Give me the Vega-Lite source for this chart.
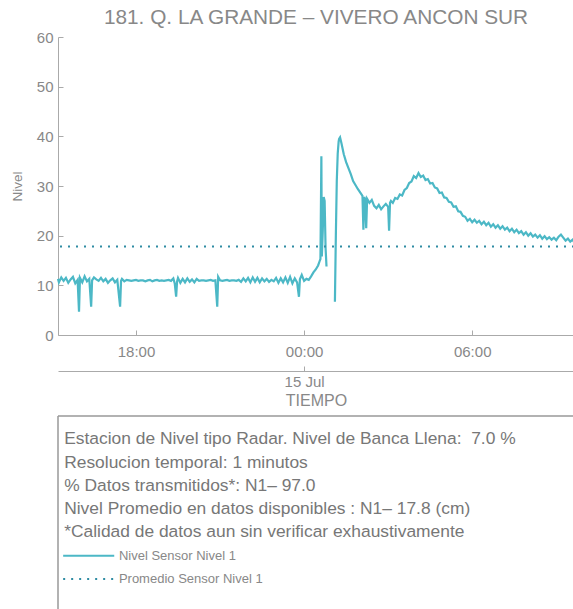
{
  "$schema": "https://vega.github.io/schema/vega-lite/v6.json",
  "padding": {"left": 10, "top": 7, "right": 0, "bottom": 0},
  "spacing": 7,
  "datasets": {
    "nivel": [
      {"t":"2023-07-14T15:13","v":11.3},{"t":"2023-07-14T15:15","v":10.6},{"t":"2023-07-14T15:20","v":11.6},{"t":"2023-07-14T15:25","v":10.9},{"t":"2023-07-14T15:30","v":11.5},{"t":"2023-07-14T15:35","v":10.5},{"t":"2023-07-14T15:40","v":11.2},{"t":"2023-07-14T15:45","v":11.7},{"t":"2023-07-14T15:50","v":10.4},{"t":"2023-07-14T15:55","v":11.1},{"t":"2023-07-14T15:58","v":4.7},{"t":"2023-07-14T16:00","v":11.5},{"t":"2023-07-14T16:05","v":10.6},{"t":"2023-07-14T16:10","v":11.8},{"t":"2023-07-14T16:15","v":10.8},{"t":"2023-07-14T16:20","v":11.3},{"t":"2023-07-14T16:24","v":5.7},{"t":"2023-07-14T16:26","v":11.0},{"t":"2023-07-14T16:30","v":11.6},{"t":"2023-07-14T16:35","v":11.2},{"t":"2023-07-14T16:40","v":10.9},{"t":"2023-07-14T16:45","v":11.5},{"t":"2023-07-14T16:50","v":10.8},{"t":"2023-07-14T16:55","v":11.3},{"t":"2023-07-14T17:00","v":10.5},{"t":"2023-07-14T17:05","v":11.0},{"t":"2023-07-14T17:10","v":11.4},{"t":"2023-07-14T17:15","v":10.6},{"t":"2023-07-14T17:20","v":11.1},{"t":"2023-07-14T17:26","v":5.7},{"t":"2023-07-14T17:28","v":10.9},{"t":"2023-07-14T17:30","v":11.3},{"t":"2023-07-14T17:35","v":10.8},{"t":"2023-07-14T17:40","v":11.1},{"t":"2023-07-14T17:45","v":11.0},{"t":"2023-07-14T17:50","v":10.9},{"t":"2023-07-14T17:55","v":11.0},{"t":"2023-07-14T18:00","v":11.1},{"t":"2023-07-14T18:05","v":10.9},{"t":"2023-07-14T18:10","v":11.0},{"t":"2023-07-14T18:15","v":11.0},{"t":"2023-07-14T18:20","v":10.8},{"t":"2023-07-14T18:25","v":11.0},{"t":"2023-07-14T18:30","v":11.1},{"t":"2023-07-14T18:35","v":10.8},{"t":"2023-07-14T18:40","v":11.0},{"t":"2023-07-14T18:45","v":11.1},{"t":"2023-07-14T18:50","v":10.9},{"t":"2023-07-14T18:55","v":11.0},{"t":"2023-07-14T19:00","v":10.9},{"t":"2023-07-14T19:05","v":11.0},{"t":"2023-07-14T19:10","v":11.1},{"t":"2023-07-14T19:15","v":10.9},{"t":"2023-07-14T19:20","v":11.4},{"t":"2023-07-14T19:23","v":10.4},{"t":"2023-07-14T19:26","v":7.7},{"t":"2023-07-14T19:28","v":10.8},{"t":"2023-07-14T19:30","v":11.5},{"t":"2023-07-14T19:35","v":10.5},{"t":"2023-07-14T19:40","v":11.3},{"t":"2023-07-14T19:45","v":10.6},{"t":"2023-07-14T19:50","v":11.4},{"t":"2023-07-14T19:55","v":10.7},{"t":"2023-07-14T20:00","v":11.2},{"t":"2023-07-14T20:05","v":10.6},{"t":"2023-07-14T20:10","v":11.3},{"t":"2023-07-14T20:15","v":10.9},{"t":"2023-07-14T20:20","v":11.0},{"t":"2023-07-14T20:25","v":11.0},{"t":"2023-07-14T20:30","v":10.9},{"t":"2023-07-14T20:35","v":11.0},{"t":"2023-07-14T20:40","v":11.1},{"t":"2023-07-14T20:45","v":10.9},{"t":"2023-07-14T20:50","v":11.0},{"t":"2023-07-14T20:54","v":5.7},{"t":"2023-07-14T20:56","v":11.7},{"t":"2023-07-14T21:00","v":11.0},{"t":"2023-07-14T21:05","v":10.9},{"t":"2023-07-14T21:10","v":11.0},{"t":"2023-07-14T21:15","v":11.1},{"t":"2023-07-14T21:20","v":10.9},{"t":"2023-07-14T21:25","v":11.0},{"t":"2023-07-14T21:30","v":11.0},{"t":"2023-07-14T21:35","v":10.9},{"t":"2023-07-14T21:40","v":11.1},{"t":"2023-07-14T21:45","v":10.7},{"t":"2023-07-14T21:50","v":11.4},{"t":"2023-07-14T21:55","v":10.8},{"t":"2023-07-14T22:00","v":11.5},{"t":"2023-07-14T22:05","v":10.6},{"t":"2023-07-14T22:10","v":11.6},{"t":"2023-07-14T22:15","v":10.7},{"t":"2023-07-14T22:20","v":11.5},{"t":"2023-07-14T22:25","v":10.6},{"t":"2023-07-14T22:30","v":11.4},{"t":"2023-07-14T22:35","v":10.8},{"t":"2023-07-14T22:40","v":11.3},{"t":"2023-07-14T22:45","v":10.7},{"t":"2023-07-14T22:50","v":11.1},{"t":"2023-07-14T22:55","v":10.8},{"t":"2023-07-14T23:00","v":11.5},{"t":"2023-07-14T23:05","v":10.5},{"t":"2023-07-14T23:10","v":11.4},{"t":"2023-07-14T23:15","v":10.6},{"t":"2023-07-14T23:20","v":11.6},{"t":"2023-07-14T23:25","v":10.5},{"t":"2023-07-14T23:30","v":11.7},{"t":"2023-07-14T23:35","v":10.4},{"t":"2023-07-14T23:40","v":11.4},{"t":"2023-07-14T23:45","v":10.6},{"t":"2023-07-14T23:49","v":7.7},{"t":"2023-07-14T23:51","v":11.2},{"t":"2023-07-14T23:55","v":12.1},
      {"t":"2023-07-15T00:00","v":10.9},{"t":"2023-07-15T00:05","v":11.3},{"t":"2023-07-15T00:10","v":11.1},{"t":"2023-07-15T00:15","v":11.8},{"t":"2023-07-15T00:20","v":12.6},{"t":"2023-07-15T00:25","v":13.2},{"t":"2023-07-15T00:30","v":14.0},{"t":"2023-07-15T00:33","v":14.8},{"t":"2023-07-15T00:35","v":15.3},{"t":"2023-07-15T00:37","v":36.0},{"t":"2023-07-15T00:38","v":15.8},{"t":"2023-07-15T00:40","v":21.0},{"t":"2023-07-15T00:42","v":27.8},{"t":"2023-07-15T00:44","v":27.0},{"t":"2023-07-15T00:46","v":17.5},{"t":"2023-07-15T00:48","v":13.8},{"t":"2023-07-15T00:50","v":null},
      {"t":"2023-07-15T01:06","v":6.7},{"t":"2023-07-15T01:08","v":20.0},{"t":"2023-07-15T01:10","v":31.0},{"t":"2023-07-15T01:12","v":36.5},{"t":"2023-07-15T01:14","v":39.0},{"t":"2023-07-15T01:15","v":39.5},{"t":"2023-07-15T01:17","v":39.8},{"t":"2023-07-15T01:20","v":38.6},{"t":"2023-07-15T01:25","v":36.4},{"t":"2023-07-15T01:30","v":34.8},{"t":"2023-07-15T01:35","v":33.6},{"t":"2023-07-15T01:40","v":32.4},{"t":"2023-07-15T01:45","v":31.0},{"t":"2023-07-15T01:50","v":30.2},{"t":"2023-07-15T01:55","v":29.4},{"t":"2023-07-15T02:00","v":28.7},{"t":"2023-07-15T02:05","v":28.0},{"t":"2023-07-15T02:07","v":21.2},{"t":"2023-07-15T02:09","v":27.8},{"t":"2023-07-15T02:11","v":27.3},{"t":"2023-07-15T02:13","v":21.5},{"t":"2023-07-15T02:15","v":27.4},{"t":"2023-07-15T02:20","v":26.6},{"t":"2023-07-15T02:25","v":27.2},{"t":"2023-07-15T02:30","v":26.0},{"t":"2023-07-15T02:35","v":25.5},{"t":"2023-07-15T02:40","v":26.2},{"t":"2023-07-15T02:45","v":25.3},{"t":"2023-07-15T02:50","v":25.9},{"t":"2023-07-15T02:55","v":26.4},{"t":"2023-07-15T03:00","v":25.8},{"t":"2023-07-15T03:02","v":21.0},{"t":"2023-07-15T03:04","v":26.6},{"t":"2023-07-15T03:06","v":27.0},{"t":"2023-07-15T03:10","v":26.6},{"t":"2023-07-15T03:15","v":27.6},{"t":"2023-07-15T03:20","v":27.4},{"t":"2023-07-15T03:25","v":28.3},{"t":"2023-07-15T03:30","v":28.1},{"t":"2023-07-15T03:35","v":29.2},{"t":"2023-07-15T03:40","v":29.6},{"t":"2023-07-15T03:45","v":30.6},{"t":"2023-07-15T03:50","v":30.9},{"t":"2023-07-15T03:55","v":32.0},{"t":"2023-07-15T04:00","v":31.6},{"t":"2023-07-15T04:05","v":32.6},{"t":"2023-07-15T04:10","v":31.8},{"t":"2023-07-15T04:15","v":32.1},{"t":"2023-07-15T04:20","v":31.2},{"t":"2023-07-15T04:25","v":31.4},{"t":"2023-07-15T04:30","v":30.5},{"t":"2023-07-15T04:35","v":30.6},{"t":"2023-07-15T04:40","v":29.7},{"t":"2023-07-15T04:45","v":29.5},{"t":"2023-07-15T04:50","v":28.6},{"t":"2023-07-15T04:55","v":28.7},{"t":"2023-07-15T05:00","v":27.7},{"t":"2023-07-15T05:05","v":27.6},{"t":"2023-07-15T05:10","v":26.8},{"t":"2023-07-15T05:15","v":26.7},{"t":"2023-07-15T05:20","v":25.8},{"t":"2023-07-15T05:25","v":25.9},{"t":"2023-07-15T05:30","v":24.9},{"t":"2023-07-15T05:35","v":24.8},{"t":"2023-07-15T05:40","v":24.0},{"t":"2023-07-15T05:45","v":23.8},{"t":"2023-07-15T05:50","v":23.0},{"t":"2023-07-15T05:55","v":23.4},{"t":"2023-07-15T06:00","v":22.7},{"t":"2023-07-15T06:05","v":23.2},{"t":"2023-07-15T06:10","v":22.6},{"t":"2023-07-15T06:15","v":23.0},{"t":"2023-07-15T06:20","v":22.3},{"t":"2023-07-15T06:25","v":22.8},{"t":"2023-07-15T06:30","v":22.1},{"t":"2023-07-15T06:35","v":22.6},{"t":"2023-07-15T06:40","v":21.8},{"t":"2023-07-15T06:45","v":22.3},{"t":"2023-07-15T06:50","v":21.6},{"t":"2023-07-15T06:55","v":22.1},{"t":"2023-07-15T07:00","v":21.4},{"t":"2023-07-15T07:05","v":21.9},{"t":"2023-07-15T07:10","v":21.2},{"t":"2023-07-15T07:15","v":21.6},{"t":"2023-07-15T07:20","v":20.9},{"t":"2023-07-15T07:25","v":21.4},{"t":"2023-07-15T07:30","v":20.7},{"t":"2023-07-15T07:35","v":21.2},{"t":"2023-07-15T07:40","v":20.5},{"t":"2023-07-15T07:45","v":20.9},{"t":"2023-07-15T07:50","v":20.2},{"t":"2023-07-15T07:55","v":20.7},{"t":"2023-07-15T08:00","v":20.0},{"t":"2023-07-15T08:05","v":20.5},{"t":"2023-07-15T08:10","v":19.8},{"t":"2023-07-15T08:15","v":20.2},{"t":"2023-07-15T08:20","v":19.6},{"t":"2023-07-15T08:25","v":20.1},{"t":"2023-07-15T08:30","v":19.4},{"t":"2023-07-15T08:35","v":19.9},{"t":"2023-07-15T08:40","v":19.3},{"t":"2023-07-15T08:45","v":19.7},{"t":"2023-07-15T08:50","v":19.2},{"t":"2023-07-15T08:55","v":19.6},{"t":"2023-07-15T09:00","v":19.1},{"t":"2023-07-15T09:05","v":19.8},{"t":"2023-07-15T09:10","v":20.2},{"t":"2023-07-15T09:15","v":19.6},{"t":"2023-07-15T09:20","v":19.0},{"t":"2023-07-15T09:25","v":19.4},{"t":"2023-07-15T09:30","v":18.8},{"t":"2023-07-15T09:35","v":19.2},{"t":"2023-07-15T09:38","v":18.7}
    ],
    "promedio": [{"v": 17.8}],
    "notas": [
      {"line": 1, "text": "Estacion de Nivel tipo Radar. Nivel de Banca Llena:\u00a0 7.0 %"},
      {"line": 2, "text": "Resolucion temporal: 1 minutos"},
      {"line": 3, "text": "% Datos transmitidos*: N1\u2013 97.0"},
      {"line": 4, "text": "Nivel Promedio en datos disponibles : N1\u2013 17.8 (cm)"},
      {"line": 5, "text": "*Calidad de datos aun sin verificar exhaustivamente"}
    ],
    "leyenda": [
      {"line": 6, "serie": "Nivel Sensor Nivel 1"},
      {"line": 7, "serie": "Promedio Sensor Nivel 1"}
    ],
    "marco": [{"edge": "box"}]
  },
  "vconcat": [
    {
      "width": 516,
      "height": 298,
      "title": {"text": "181. Q. LA GRANDE \u2013 VIVERO ANCON SUR", "fontSize": 20.8, "fontWeight": "normal", "color": "#888", "anchor": "middle", "offset": 1},
      "layer": [
        {
          "data": {"name": "nivel"},
          "mark": {"type": "line", "color": "#4cb8c6", "strokeWidth": 2.2, "invalid": "break-paths-show-domains"},
          "encoding": {
            "x": {"field": "t", "type": "temporal",
              "scale": {"domain": [{"year": 2023, "month": 7, "date": 14, "hours": 15, "minutes": 13}, {"year": 2023, "month": 7, "date": 15, "hours": 9, "minutes": 38}]},
              "axis": {"orient": "bottom", "title": null, "format": "%H:%M", "values": [{"year": 2023, "month": 7, "date": 14, "hours": 18}, {"year": 2023, "month": 7, "date": 15, "hours": 0}, {"year": 2023, "month": 7, "date": 15, "hours": 6}], "tickSize": -5, "labelPadding": 14}},
            "y": {"field": "v", "type": "quantitative", "scale": {"domain": [0, 60]},
              "axis": {"title": "Nivel", "values": [0, 10, 20, 30, 40, 50, 60], "tickSize": -5, "labelPadding": 10, "titlePadding": 12}}
          }
        },
        {
          "data": {"name": "promedio"},
          "mark": {"type": "rule", "color": "#2f8ca3", "strokeWidth": 2, "strokeDash": [2, 6]},
          "encoding": {"y": {"field": "v", "type": "quantitative"}}
        },
        {
          "data": {"name": "nivel"},
          "mark": {"type": "point", "opacity": 0},
          "encoding": {
            "x": {"field": "t", "type": "temporal",
              "axis": {"orient": "bottom", "offset": 36, "title": "TIEMPO", "titleFontSize": 16, "titlePadding": 3, "format": "%d %b", "values": [{"year": 2023, "month": 7, "date": 15, "hours": 0}], "tickSize": -5, "labelPadding": 8}}
          }
        }
      ],
      "resolve": {"axis": {"x": "independent"}}
    },
    {
      "width": 516,
      "height": 194,
      "layer": [
        {
          "data": {"name": "marco"},
          "mark": {"type": "rule", "color": "#999", "strokeWidth": 1.5},
          "encoding": {
            "x": {"datum": 0, "type": "quantitative", "scale": {"domain": [0, 100], "nice": false}, "axis": null},
            "x2": {"datum": 100},
            "y": {"datum": 0, "type": "quantitative", "scale": {"domain": [0, 8.33], "nice": false, "reverse": true}, "axis": null}
          }
        },
        {
          "data": {"name": "marco"},
          "mark": {"type": "rule", "color": "#999", "strokeWidth": 1.5},
          "encoding": {
            "x": {"datum": 0, "type": "quantitative"},
            "y": {"datum": 0, "type": "quantitative"},
            "y2": {"datum": 8.33}
          }
        },
        {
          "data": {"name": "notas"},
          "mark": {"type": "text", "align": "left", "baseline": "middle", "fontSize": 17.4, "color": "#777"},
          "encoding": {
            "x": {"datum": 1.2, "type": "quantitative"},
            "y": {"field": "line", "type": "quantitative"},
            "text": {"field": "text"}
          }
        },
        {
          "data": {"name": "leyenda"},
          "mark": {"type": "rule", "strokeWidth": 2},
          "encoding": {
            "x": {"datum": 1, "type": "quantitative"},
            "x2": {"datum": 10.9},
            "y": {"field": "line", "type": "quantitative"},
            "color": {"field": "serie", "type": "nominal", "scale": {"domain": ["Nivel Sensor Nivel 1", "Promedio Sensor Nivel 1"], "range": ["#4cb8c6", "#2f8ca3"]}, "legend": null},
            "strokeDash": {"field": "serie", "type": "nominal", "scale": {"domain": ["Nivel Sensor Nivel 1", "Promedio Sensor Nivel 1"], "range": [[1, 0], [2, 6]]}, "legend": null}
          }
        },
        {
          "data": {"name": "leyenda"},
          "mark": {"type": "text", "align": "left", "baseline": "middle", "fontSize": 13, "color": "#888"},
          "encoding": {
            "x": {"datum": 11.8, "type": "quantitative"},
            "y": {"field": "line", "type": "quantitative"},
            "text": {"field": "serie"}
          }
        }
      ]
    }
  ],
  "config": {
    "font": "Liberation Sans",
    "view": {"stroke": null},
    "axis": {"grid": false, "labelColor": "#888", "titleColor": "#888", "domainColor": "#aaa", "tickColor": "#aaa", "labelFontSize": 15, "titleFontSize": 13.5, "titleFontWeight": "normal"}
  }
}
